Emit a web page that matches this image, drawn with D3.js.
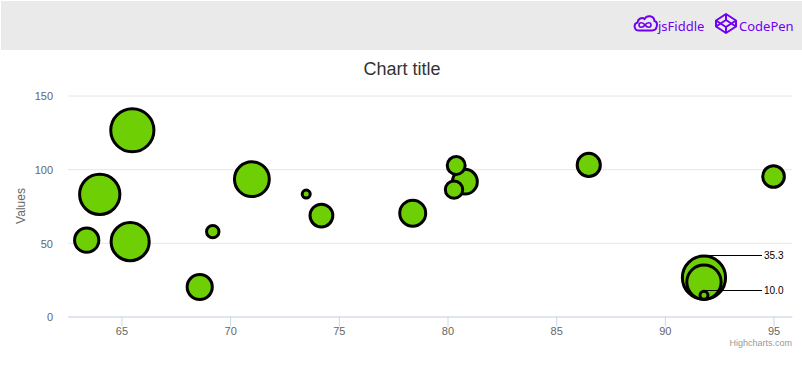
<!DOCTYPE html>
<html>
<head>
<meta charset="utf-8">
<script src="https://cdn.jsdelivr.net/npm/d3@7"></script>
<style>
  html, body { margin: 0; padding: 0; background: #fff; }
  svg { display: block; font-family: "Liberation Sans", Arial, sans-serif; }
  .tick-label { font-size: 11px; fill: #666; }
  .link { font-family: "Noto Sans", sans-serif; font-size: 13px; fill: #7000f0; }
</style>
</head>
<body>
<svg width="802" height="369"></svg>
<script>
// values
const xValues = [95, 86.5, 80.8, 80.4, 80.3, 78.4, 74.2, 73.5, 71, 69.2, 68.6, 65.5, 65.4, 63.4, 64];
const yValues = [95, 102.9, 91.5, 102.5, 86.1, 70.1, 68.5, 83.1, 93.2, 57.6, 20, 126.4, 50.8, 51.8, 82.9];
const zValues = [13.8, 14.7, 15.8, 12, 11.8, 16.6, 14.5, 10, 24.7, 10.4, 16, 35.3, 28.5, 15.4, 31.3];
const xTicks = [65, 70, 75, 80, 85, 90, 95];
const yTicks = [0, 50, 100, 150];
const legendValues = [35.3, 24.2, 10];
const legendLabels = ['35.3', '', '10.0'];

const svg = d3.select('svg');
const width = +svg.attr('width');
const height = +svg.attr('height');

const green = '#6ecf05';
const margin = { left: 68, right: 10 };

// header bar with the two links
svg.append('rect')
  .attr('x', 1).attr('y', 1)
  .attr('width', width - 1).attr('height', 49)
  .attr('fill', '#eaeaea');

const cloud = svg.append('g')
  .attr('transform', 'translate(633,15)')
  .attr('fill', 'none')
  .attr('stroke', '#7000f0')
  .attr('stroke-width', 2);
cloud.append('path')
  .attr('d', 'M6 15.5 C1 15.5 0 9 4.5 7.5 C5 3.5 9 2 11.5 4 C14 -0.5 21 0.5 21.5 6 C25.5 7 24.5 15.5 19 15.5 Z');
cloud.append('path')
  .attr('stroke-width', 1.6)
  .attr('d', 'M12 10 C10 7 6 7.2 6 10 C6 12.8 10 13 12 10 C14 7 18 7.2 18 10 C18 12.8 14 13 12 10 Z');

const pen = svg.append('g')
  .attr('transform', 'translate(716,14)')
  .attr('fill', 'none')
  .attr('stroke', '#7000f0')
  .attr('stroke-width', 2)
  .attr('stroke-linejoin', 'round');
pen.append('path').attr('d', 'M10 0 L20 6.5 L20 12.5 L10 19 L0 12.5 L0 6.5 Z');
pen.append('path').attr('d', 'M0 6.5 L10 13 L20 6.5 M0 12.5 L10 6 L20 12.5 M10 0 L10 6 M10 13 L10 19');

svg.append('text').attr('class', 'link').attr('x', 658).attr('y', 31).text('jsFiddle');
svg.append('text').attr('class', 'link').attr('x', 739).attr('y', 31).text('CodePen');

// scales
const xScale = d3.scaleLinear()
  .domain([62.54, 95.85])
  .range([margin.left, width - margin.right]);

const yScale = d3.scaleLinear()
  .domain([0, 150])
  .range([316.5, 95.5]);

// bubble radius, area follows z like highcharts does
const zExtent = d3.extent(zValues);
const rScale = d3.scaleSqrt()
  .domain([0, zExtent[1] - zExtent[0]])
  .range([0, 17.6]);
const radius = z => 4 + rScale(z - zExtent[0]);

svg.append('text')
  .attr('x', 402).attr('y', 75)
  .attr('text-anchor', 'middle')
  .attr('font-size', 18)
  .attr('fill', '#333')
  .text('Chart title');

// y axis
const yAxis = d3.axisLeft(yScale)
  .tickValues(yTicks)
  .tickSize(-(width - margin.left - margin.right))
  .tickPadding(15);

const yAxisG = svg.append('g')
  .attr('transform', `translate(${margin.left},0)`)
  .call(yAxis);

yAxisG.select('.domain').remove();
yAxisG.selectAll('line').attr('stroke', '#e6e6e6');
yAxisG.selectAll('text')
  .attr('class', 'tick-label')
  .attr('dy', '0.38em')
  .attr('font-family', null)
  .attr('font-size', null);

svg.append('text')
  .attr('transform', `translate(25,${yScale(75)}) rotate(-90)`)
  .attr('text-anchor', 'middle')
  .attr('font-size', 12)
  .attr('fill', '#666')
  .text('Values');

// x axis
const xAxis = d3.axisBottom(xScale)
  .tickValues(xTicks)
  .tickSize(10)
  .tickSizeOuter(0)
  .tickPadding(1);

const xAxisG = svg.append('g')
  .attr('transform', `translate(0,${yScale(0)})`)
  .call(xAxis);

xAxisG.select('.domain').attr('stroke', '#ccd6eb');
xAxisG.selectAll('line').attr('stroke', '#ccd6eb');
xAxisG.selectAll('text')
  .attr('class', 'tick-label')
  .attr('font-family', null)
  .attr('font-size', null);

// bubbles
const points = xValues.map((x, i) => ({ x, y: yValues[i], z: zValues[i] }));

svg.append('g').selectAll('circle').data(points)
  .enter().append('circle')
    .attr('cx', d => xScale(d.x))
    .attr('cy', d => yScale(d.y))
    .attr('r', d => radius(d.z))
    .attr('fill', green)
    .attr('stroke', '#000')
    .attr('stroke-width', 3);

// bubble legend, all circles sit on one bottom point
const legendCx = xScale(91.8);
const legendBottom = yScale(11.67);
const labelX = 762;
const legendTop = d => legendBottom - 2 * radius(d) - 1.5;

const legendG = svg.append('g');

legendG.selectAll('circle').data(legendValues)
  .enter().append('circle')
    .attr('cx', legendCx)
    .attr('cy', d => legendBottom - radius(d))
    .attr('r', d => radius(d))
    .attr('fill', green)
    .attr('stroke', '#000')
    .attr('stroke-width', 3);

const labelled = legendValues.filter((d, i) => legendLabels[i]);

legendG.selectAll('line').data(labelled)
  .enter().append('line')
    .attr('x1', legendCx)
    .attr('x2', labelX)
    .attr('y1', d => Math.round(legendTop(d)) + 0.5)
    .attr('y2', d => Math.round(legendTop(d)) + 0.5)
    .attr('stroke', '#000');

legendG.selectAll('text').data(labelled)
  .enter().append('text')
    .attr('x', labelX + 2)
    .attr('y', d => legendTop(d) + 4)
    .attr('font-size', 10)
    .attr('fill', '#000')
    .text(d => legendLabels[legendValues.indexOf(d)]);

svg.append('text')
  .attr('x', 792).attr('y', 346)
  .attr('text-anchor', 'end')
  .attr('font-size', 9)
  .attr('fill', '#999')
  .text('Highcharts.com');
</script>
</body>
</html>
